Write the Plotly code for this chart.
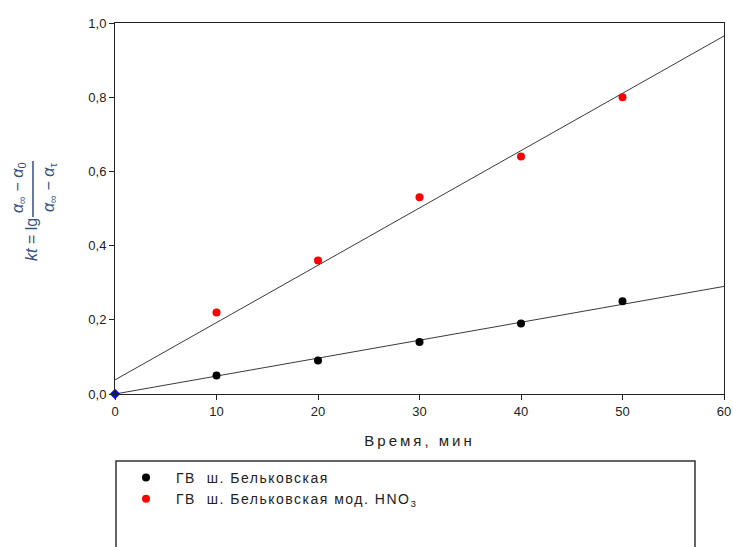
import plotly.graph_objects as go

# Time points, minutes
time_min = [10, 20, 30, 40, 50]

# Measured kinetics values
kt_belkovskaya = [0.05, 0.09, 0.14, 0.19, 0.25]
kt_belkovskaya_hno3 = [0.22, 0.36, 0.53, 0.64, 0.80]

# Linear fits evaluated at the axis ends
fit_x = [0, 60]
fit_belkovskaya = [0.0, 0.29]
fit_belkovskaya_hno3 = [0.038, 0.965]

# Origin point
origin_x = [0]
origin_y = [0.0]

series_names = ["ГВ  ш. Бельковская", "ГВ  ш. Бельковская мод. HNO<sub>3</sub>"]
x_title = "Время, мин"

FONT = "Liberation Sans, Arial, sans-serif"
LABEL_COLOR = "#34527f"

# Plot area in pixels
W, H = 733, 547
L, R, T, B = 115, 9, 23, 153
PW = W - L - R
PH = H - T - B


def px_x(px):
    return (px - L) / PW


def px_y(py):
    return (H - B - py) / PH


def spaced(text, px):
    return f'<span style="letter-spacing:{px}px">{text}</span>'


fig = go.Figure()

fig.add_trace(go.Scatter(x=fit_x, y=fit_belkovskaya_hno3, mode="lines",
                         line=dict(color="#3a3a3a", width=1), showlegend=False,
                         hoverinfo="skip"))
fig.add_trace(go.Scatter(x=fit_x, y=fit_belkovskaya, mode="lines",
                         line=dict(color="#3a3a3a", width=1), showlegend=False,
                         hoverinfo="skip"))

fig.add_trace(go.Scatter(x=time_min, y=kt_belkovskaya, mode="markers",
                         name=spaced(series_names[0], 1.5),
                         marker=dict(color="black", size=8)))
fig.add_trace(go.Scatter(x=time_min, y=kt_belkovskaya_hno3, mode="markers",
                         name=spaced(series_names[1], 1.5),
                         marker=dict(color="red", size=8)))
fig.add_trace(go.Scatter(x=origin_x, y=origin_y, mode="markers",
                         showlegend=False, cliponaxis=False,
                         marker=dict(color="blue", size=8, symbol="diamond")))

axis_common = dict(
    showline=True, linecolor="#222", linewidth=1, mirror=True,
    ticks="outside", ticklen=5, tickcolor="#222", tickwidth=1,
    showgrid=False, zeroline=False, automargin=False,
    tickfont=dict(family=FONT, size=13, color="#222"),
)

fig.update_xaxes(range=[0, 60], dtick=10, tick0=0,
                 title=dict(text=spaced(x_title, 3),
                            font=dict(family=FONT, size=15, color="#222"),
                            standoff=17),
                 **axis_common)
fig.update_yaxes(range=[0, 1.0], dtick=0.2, tick0=0, tickformat=".1f",
                 **axis_common)

# Y-axis formula: kt = lg (α∞ − α0)/(α∞ − ατ), rotated
annotations = [
    dict(text="<i>kt</i> = lg", x=px_x(31), y=px_y(240), textangle=-90,
         font=dict(family=FONT, size=16, color=LABEL_COLOR)),
    dict(text="<i>α</i><sub>∞</sub> − <i>α</i><sub>0</sub>", x=px_x(18), y=px_y(188),
         textangle=-90, font=dict(family=FONT, size=16, color=LABEL_COLOR)),
    dict(text="<i>α</i><sub>∞</sub> − <i>α</i><sub>τ</sub>", x=px_x(49), y=px_y(188),
         textangle=-90, font=dict(family=FONT, size=16, color=LABEL_COLOR)),
]
for a in annotations:
    a.update(xref="paper", yref="paper", showarrow=False,
             xanchor="center", yanchor="middle")

shapes = [
    # fraction bar
    dict(type="line", xref="paper", yref="paper",
         x0=px_x(33), x1=px_x(33), y0=px_y(161), y1=px_y(217),
         line=dict(color=LABEL_COLOR, width=1.5)),
    # legend frame
    dict(type="rect", xref="paper", yref="paper",
         x0=px_x(116), x1=px_x(695), y0=px_y(461), y1=px_y(560),
         line=dict(color="#333", width=1.5), fillcolor="rgba(0,0,0,0)"),
]

fig.update_layout(
    width=W, height=H,
    margin=dict(l=L, r=R, t=T, b=B, pad=0, autoexpand=False),
    plot_bgcolor="white", paper_bgcolor="white",
    separators=", ",
    font=dict(family=FONT, color="#222"),
    annotations=annotations,
    shapes=shapes,
    legend=dict(x=px_x(116), y=px_y(462), xanchor="left", yanchor="top",
                bgcolor="rgba(0,0,0,0)", borderwidth=0,
                font=dict(family=FONT, size=14, color="#222"),
                tracegroupgap=0, itemwidth=50),
    showlegend=True,
)

fig.write_html("out.html")
